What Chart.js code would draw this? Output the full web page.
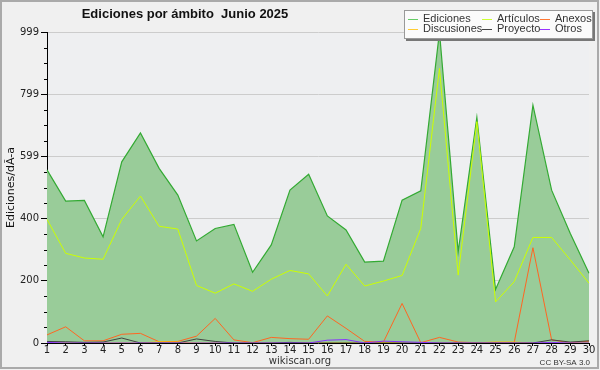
<!DOCTYPE html>
<html>
<head>
<meta charset="utf-8">
<script src="https://cdn.jsdelivr.net/npm/chart.js@4.4.1/dist/chart.umd.min.js"></script>
<style>
  body { margin: 0; background: #f0f0f0; }
  canvas { display: block; }
</style>
</head>
<body>
<canvas id="chart" width="600" height="370"></canvas>
<script>
var days = ['1','2','3','4','5','6','7','8','9','10','11','12','13','14','15','16','17','18','19','20','21','22','23','24','25','26','27','28','29','30'];

var ediciones  = [556,456,458,341,582,675,561,475,328,368,381,227,315,491,542,408,363,260,263,459,489,999,293,725,172,309,764,491,352,224];
var articulos  = [397,288,273,269,397,472,375,366,185,160,190,166,205,233,222,151,253,183,199,217,368,882,218,711,132,197,339,339,267,192];
var anexos     = [26,52,7,7,28,31,4,5,22,79,10,1,18,14,12,87,47,5,3,127,1,18,3,1,2,2,306,10,1,6];
var discusiones= [0,0,0,0,0,0,4,3,0,0,0,0,0,0,0,0,0,0,2,0,0,0,0,1,3,3,0,0,0,0];
var proyecto   = [5,4,2,3,16,0,0,0,13,5,0,0,0,2,0,0,0,0,0,0,0,0,0,0,0,0,0,10,3,7];
var otros      = [2,0,0,0,0,0,0,0,0,0,0,0,0,0,0,9,11,0,6,4,2,0,0,0,0,0,0,2,0,0];

var yTicks = [0, 199.8, 399.6, 599.4, 799.2, 999];
var yTickLabels = ['0', '200', '400', '599', '799', '999'];

var titleText = 'Ediciones por ámbito  Junio 2025';
var yTitle = 'Ediciones/dÃ-a';
var footerLeft = 'wikiscan.org';
var footerRight = 'CC BY-SA 3.0';

var FONT = '"DejaVu Sans", sans-serif';

// legend layout: [label, color] in reading order
var legendItems = [
  ['Ediciones', '#66cc66'], ['Artículos', '#ccff33'], ['Anexos', '#ff7733'],
  ['Discusiones', '#ffcc33'], ['Proyecto', '#444444'], ['Otros', '#9933ff']
];

var decor = {
  id: 'decor',
  beforeDraw(chart) {
    var c = chart.ctx, a = chart.chartArea;
    c.save();
    c.fillStyle = '#f0f0f0';
    c.fillRect(0, 0, chart.width, chart.height);
    c.fillStyle = '#eeeff1';
    c.fillRect(a.left, a.top, a.right - a.left, a.bottom - a.top);
    c.restore();
  },
  afterDraw(chart) {
    var c = chart.ctx, a = chart.chartArea, y = chart.scales.y;
    c.save();
    // minor ticks on the y axis
    c.strokeStyle = '#000';
    c.lineWidth = 1;
    for (var i = 0; i < yTicks.length - 1; i++) {
      for (var k = 1; k < 4; k++) {
        var v = yTicks[i] + (yTicks[i + 1] - yTicks[i]) * k / 4;
        var py = Math.round(y.getPixelForValue(v)) + 0.5;
        c.beginPath();
        c.moveTo(a.left - 3, py);
        c.lineTo(a.left, py);
        c.stroke();
      }
    }
    // title
    c.fillStyle = '#111';
    c.font = 'bold 13px "Liberation Sans", sans-serif';
    c.textAlign = 'center';
    c.textBaseline = 'middle';
    c.fillText(titleText, 185, 14);
    // y axis title
    c.save();
    c.translate(11, (a.top + a.bottom) / 2);
    c.rotate(-Math.PI / 2);
    c.font = '11px ' + FONT;
    c.fillStyle = '#111';
    c.fillText(yTitle, 0, 0);
    c.restore();
    // footer
    c.font = '10px ' + FONT;
    c.fillStyle = '#333';
    c.fillText(footerLeft, 300, 361);
    c.font = '8px "Liberation Sans", sans-serif';
    c.textAlign = 'right';
    c.fillText(footerRight, 590, 363);
    // legend box
    c.fillStyle = '#777';
    c.fillRect(406, 12, 189, 29);
    c.fillStyle = '#fbfbfb';
    c.fillRect(404, 10, 189, 29);
    c.strokeStyle = '#999';
    c.strokeRect(404.5, 10.5, 188, 28);
    var cols = [408, 482, 540];
    var rows = [19, 29];
    c.font = '11px "Liberation Sans", sans-serif';
    c.textAlign = 'left';
    c.textBaseline = 'middle';
    legendItems.forEach(function (it, idx) {
      var col = idx % 3, row = Math.floor(idx / 3);
      var x = cols[col], yy = rows[row];
      c.strokeStyle = it[1];
      c.beginPath();
      c.moveTo(x, yy + 0.5);
      c.lineTo(x + 10, yy + 0.5);
      c.stroke();
      c.fillStyle = '#333';
      c.fillText(it[0], x + 15, yy);
    });
    // outer frame
    c.strokeStyle = '#aaaaaa';
    c.lineWidth = 2;
    c.strokeRect(1, 1, 597, 367);
    c.restore();
  }
};

function line(label, data, color, order, width) {
  return {
    label: label, data: data, borderColor: color, borderWidth: width || 1,
    pointRadius: 0, tension: 0, fill: false, order: order
  };
}

new Chart(document.getElementById('chart'), {
  type: 'line',
  data: {
    labels: days,
    datasets: [
      {
        label: 'Ediciones', data: ediciones, borderColor: '#33aa33', borderWidth: 1.2,
        backgroundColor: 'rgba(153,204,153,1)', fill: 'origin', pointRadius: 0, tension: 0, order: 10
      },
      line('Artículos', articulos, '#ccff00', 5),
      line('Anexos', anexos, '#ff6622', 4),
      line('Discusiones', discusiones, '#ffcc00', 3),
      line('Proyecto', proyecto, '#444444', 2),
      line('Otros', otros, '#8833ff', 1)
    ]
  },
  options: {
    responsive: false,
    animation: false,
    layout: { padding: { top: 32, right: 11, left: 0, bottom: 0 } },
    plugins: { legend: { display: false }, title: { display: false }, tooltip: { enabled: false } },
    scales: {
      x: {
        afterFit(s) { s.height = 27; },
        grid: { drawOnChartArea: false, tickLength: 3, tickColor: '#000' },
        border: { color: '#000', width: 1 },
        ticks: { color: '#222', font: { family: FONT, size: 10 }, padding: -2, maxRotation: 0, autoSkip: false }
      },
      y: {
        min: 0, max: 999,
        afterFit(s) { s.width = 47; },
        afterBuildTicks(s) { s.ticks = yTicks.map(function (v) { return { value: v }; }); },
        grid: {
          color: function (ctx) { return ctx.index === 0 ? 'rgba(0,0,0,0)' : '#cccccc'; },
          tickColor: '#000', tickLength: 6
        },
        border: { color: '#000', width: 1 },
        ticks: {
          color: '#222', font: { family: FONT, size: 10 }, padding: 2,
          callback: function (v, i) { return yTickLabels[i]; }
        }
      }
    }
  },
  plugins: [decor]
});
</script>
</body>
</html>
